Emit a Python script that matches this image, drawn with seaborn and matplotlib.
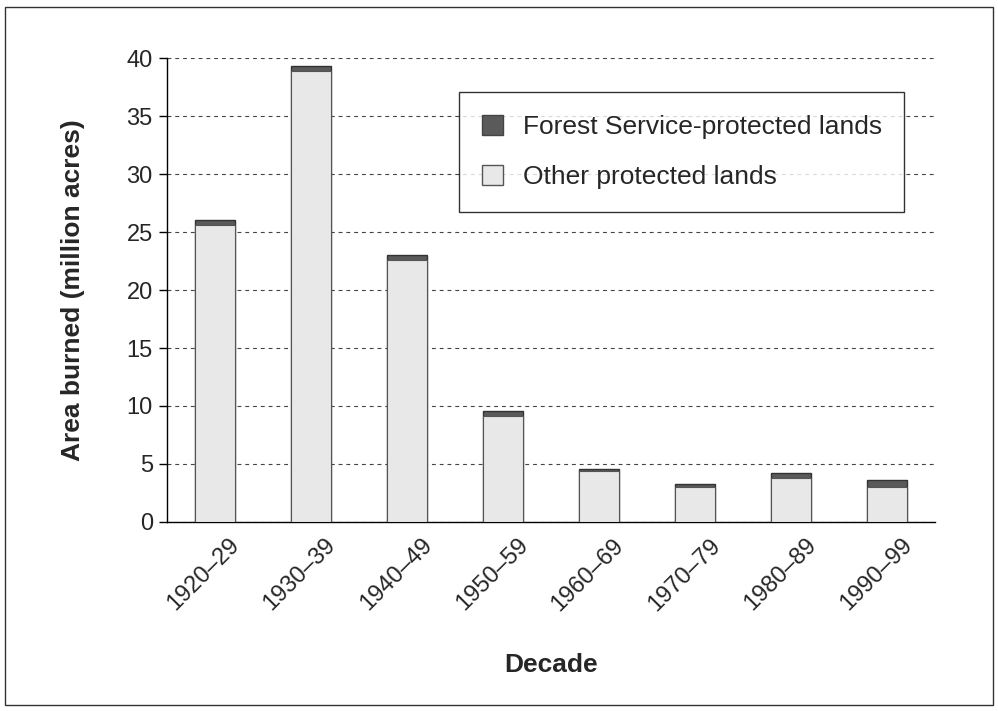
import matplotlib
matplotlib.use("Agg")
import matplotlib.pyplot as plt
import matplotlib.patches as mpatches
import matplotlib.transforms as mtransforms
import seaborn as sns
import pandas as pd

decades = ["1920–29", "1930–39", "1940–49", "1950–59",
           "1960–69", "1970–79", "1980–89", "1990–99"]
other_lands = [25.6, 38.9, 22.6, 9.1, 4.4, 3.0, 3.8, 3.0]
forest_service = [0.45, 0.4, 0.4, 0.45, 0.2, 0.3, 0.4, 0.6]
y_ticks = [0, 5, 10, 15, 20, 25, 30, 35, 40]

df = pd.DataFrame({
    "decade": decades,
    "other": other_lands,
    "total": [o + f for o, f in zip(other_lands, forest_service)],
})

sns.set_style("white")
plt.rcParams["font.family"] = ["Liberation Sans", "DejaVu Sans"]

fig = plt.figure(figsize=(9.98, 7.11), dpi=100)
ax = fig.add_axes([0.167, 0.266, 0.770, 0.652])

dark = "#5a5a5a"
light = "#e8e8e8"

# stacked bars: full height in dark, lower part overdrawn in light
sns.barplot(data=df, x="decade", y="total", color=dark, width=0.42,
            edgecolor="#333333", linewidth=1.0, saturation=1, ax=ax, zorder=3)
sns.barplot(data=df, x="decade", y="other", color=light, width=0.42,
            edgecolor="#555555", linewidth=0.8, saturation=1, ax=ax, zorder=4)

ax.set_ylim(0, 40)
ax.set_xlim(-0.5, len(decades) - 0.5)
ax.set_yticks(y_ticks)
ax.set_yticklabels([str(t) for t in y_ticks], fontsize=17)
ax.yaxis.grid(True, linestyle=(0, (3.5, 3.5)), color="#444444", linewidth=0.8, zorder=0)
ax.set_axisbelow(True)

# category labels centered, tick marks between categories
ax.set_xticks(range(len(decades)))
ax.set_xticklabels(decades, rotation=45, ha="right", rotation_mode="anchor", fontsize=17)
ax.tick_params(axis="x", length=0, pad=9)
shift = mtransforms.ScaledTranslation(14 / 100, 0, fig.dpi_scale_trans)
for lbl in ax.get_xticklabels():
    lbl.set_transform(lbl.get_transform() + shift)
ax.set_xticks([i - 0.5 for i in range(len(decades) + 1)], minor=True)
ax.tick_params(axis="x", which="minor", length=6, width=1, color="black", direction="out")
ax.tick_params(axis="y", length=6, width=1, color="black", direction="out", pad=4, left=True)

for s in ["top", "right"]:
    ax.spines[s].set_visible(False)
for s in ["left", "bottom"]:
    ax.spines[s].set_color("black")
    ax.spines[s].set_linewidth(1.0)

ax.set_xlabel("Decade", fontsize=19, fontweight="bold", labelpad=27)
ax.set_ylabel("Area burned (million acres)", fontsize=19, fontweight="bold", labelpad=30)

handles = [
    mpatches.Patch(facecolor=dark, edgecolor="#444444", label="Forest Service-protected lands"),
    mpatches.Patch(facecolor=light, edgecolor="#555555", label="Other protected lands"),
]
leg = ax.legend(handles=handles, loc="upper left", bbox_to_anchor=(0.381, 0.927),
                fontsize=19, frameon=True, fancybox=False, edgecolor="black",
                borderpad=0.85, labelspacing=1.0, handlelength=0.8, handleheight=0.8,
                handletextpad=0.75, borderaxespad=0)
leg.get_frame().set_linewidth(1.0)
leg.set_zorder(10)

# thin frame around the whole figure
fig.patches.append(mpatches.Rectangle((0.005, 0.008), 0.99, 0.982, transform=fig.transFigure,
                                      fill=False, edgecolor="#333333", linewidth=1.0))

fig.savefig("out.png", dpi=100)
